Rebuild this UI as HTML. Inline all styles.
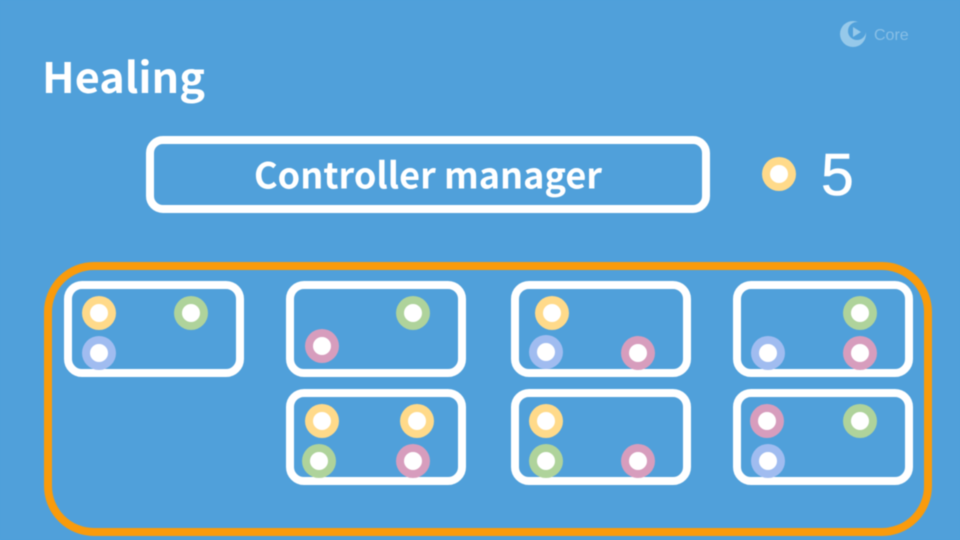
<!DOCTYPE html>
<html>
<head>
<meta charset="utf-8">
<style>
html,body{margin:0;padding:0;width:960px;height:540px;overflow:hidden;background:#50a0da}
svg{display:block;filter:blur(.45px)}
.b{fill:none;stroke:#fff;stroke-width:8}
.y{fill:#ffda8a}.g{fill:#afd39b}.u{fill:#a0bcf0}.p{fill:#d79dbd}
.w{fill:#fff}
</style>
</head>
<body>
<svg width="960" height="540" viewBox="0 0 960 540" xmlns="http://www.w3.org/2000/svg">
<defs>
<g id="y"><circle r="17" class="y"/><circle r="9" class="w"/></g>
<g id="g"><circle r="17" class="g"/><circle r="9" class="w"/></g>
<g id="u"><circle r="17" class="u"/><circle r="9" class="w"/></g>
<g id="p"><circle r="17" class="p"/><circle r="9" class="w"/></g>
</defs>
<rect x="-5" y="-5" width="970" height="550" fill="#50a0da"/>

<!-- logo -->
<circle cx="853" cy="34" r="13" fill="#96c9ea"/>
<circle cx="857" cy="31" r="9" fill="#50a0da"/>
<path d="M853 27l8 5-8 5z" fill="#96c9ea"/>
<text x="874" y="40" font-family="'Liberation Sans',sans-serif" font-size="16" fill="#88bfe6">Core</text>

<text x="42" y="93" font-size="42" font-weight="700" fill="#fff" textLength="163" lengthAdjust="spacingAndGlyphs" style="font-family:'Noto Sans CJK JP','Liberation Sans',sans-serif">Healing</text>

<rect x="150" y="140" width="556" height="69" rx="13" class="b"/>
<text x="428" y="188.500" text-anchor="middle" font-size="36" font-weight="700" fill="#fff" textLength="348" lengthAdjust="spacingAndGlyphs" style="font-family:'Noto Sans CJK JP','Liberation Sans',sans-serif">Controller manager</text>

<use href="#y" x="779" y="174"/>
<text x="821" y="195" font-family="'Liberation Sans',sans-serif" font-size="59" fill="#fff" stroke="#fff" stroke-width=".6">5</text>

<rect x="48" y="266" width="880" height="266" rx="46" fill="none" stroke="#f99b0c" stroke-width="8"/>

<rect x="68" y="285" width="172" height="88" rx="14" class="b"/>
<rect x="290" y="285" width="172" height="88" rx="14" class="b"/>
<rect x="515" y="285" width="172" height="88" rx="14" class="b"/>
<rect x="737" y="285" width="172" height="88" rx="14" class="b"/>
<rect x="290" y="393" width="172" height="88" rx="14" class="b"/>
<rect x="515" y="393" width="172" height="88" rx="14" class="b"/>
<rect x="737" y="393" width="172" height="88" rx="14" class="b"/>

<use href="#y" x="99" y="313"/><use href="#g" x="191" y="313"/><use href="#u" x="99" y="353"/>
<use href="#g" x="413" y="313"/><use href="#p" x="322" y="346"/>
<use href="#y" x="552" y="313"/><use href="#u" x="546" y="352"/><use href="#p" x="638" y="353"/>
<use href="#g" x="860" y="313"/><use href="#u" x="768" y="353"/><use href="#p" x="860" y="353"/>
<use href="#y" x="322" y="421"/><use href="#y" x="417" y="421"/><use href="#g" x="319" y="461"/><use href="#p" x="413" y="461"/>
<use href="#y" x="546" y="421"/><use href="#g" x="546" y="461"/><use href="#p" x="638" y="461"/>
<use href="#p" x="767" y="421"/><use href="#g" x="860" y="421"/><use href="#u" x="768" y="461"/>
</svg>
</body>
</html>
